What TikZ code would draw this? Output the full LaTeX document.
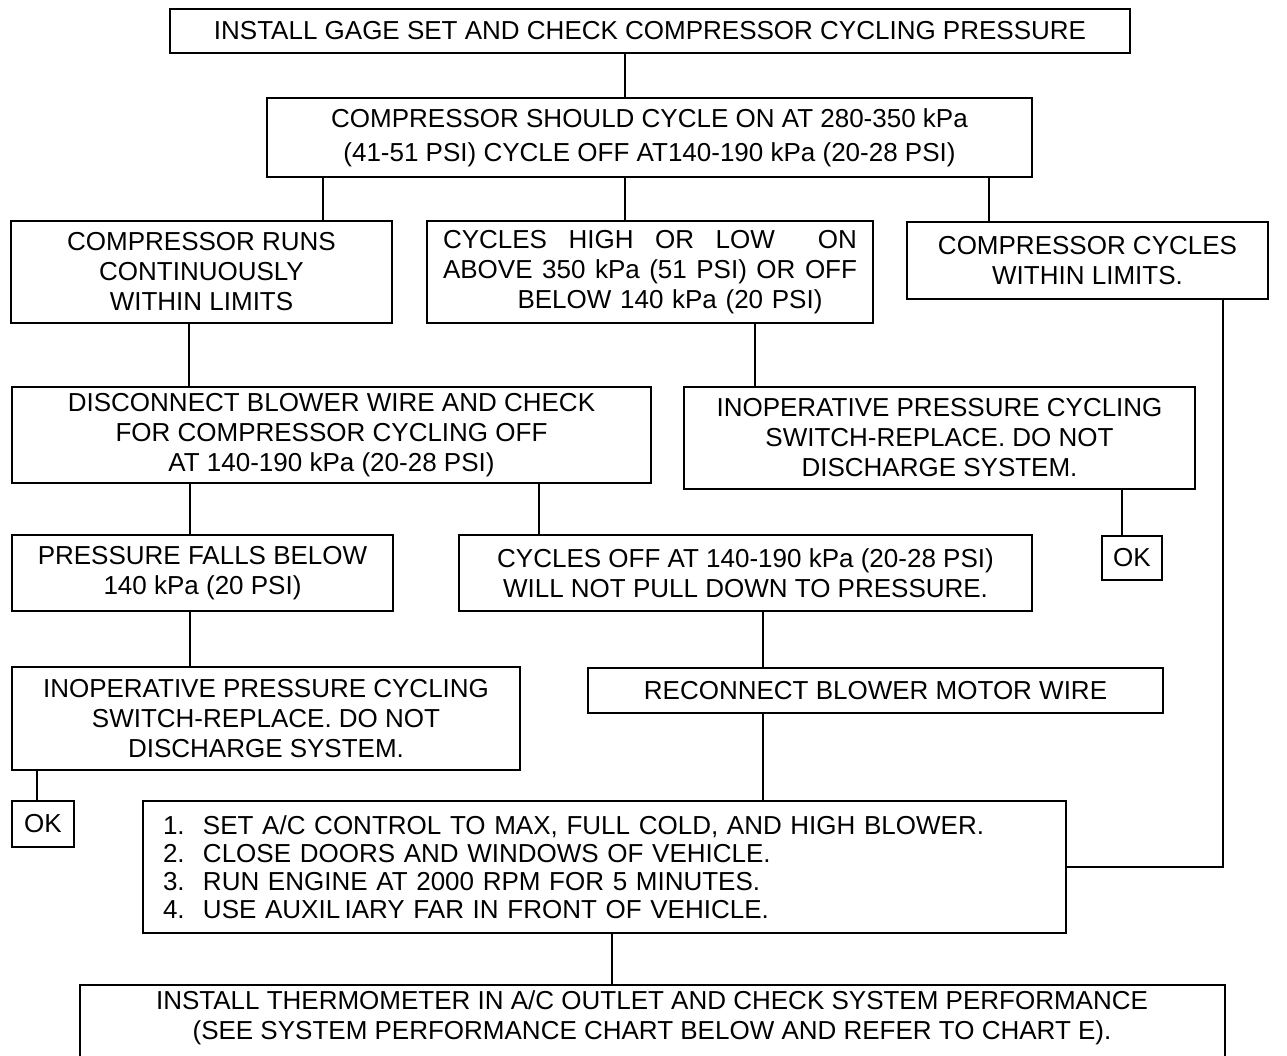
\documentclass[tikz,border=0pt]{standalone}
\usepackage{fontspec}
\setmainfont{Liberation Sans}

\begin{document}
\begin{tikzpicture}[
    x=1pt, y=-1pt,
    box/.style={rectangle, draw, line width=2pt, align=center, inner sep=0pt, font=\fontsize{26}{30}\selectfont},
    link/.style={line width=2.5pt}
]
\useasboundingbox (0,0) rectangle (1287,1055);

\node[box, minimum width=960pt, minimum height=44pt] (gage) at (650,31) {INSTALL GAGE SET AND CHECK COMPRESSOR CYCLING PRESSURE};
\node[box, minimum width=765pt, minimum height=79pt, font=\fontsize{26}{34}\selectfont] (limits) at (649.5,137.5) {COMPRESSOR SHOULD CYCLE ON AT 280-350 kPa\\(41-51 PSI) CYCLE OFF AT140-190 kPa (20-28 PSI)};

\node[box, minimum width=381pt, minimum height=102pt] (runs) at (201.5,272) {COMPRESSOR RUNS\\CONTINUOUSLY\\WITHIN LIMITS};
\node[box, minimum width=446pt, minimum height=102pt, text width=414pt] (highlow) at (650,272) {\makebox[414pt][s]{CYCLES\hfill HIGH\hfill OR\hfill LOW\hfill\hfill ON}\\\makebox[414pt][s]{ABOVE\hfill 350\hfill kPa\hfill (51\hfill PSI)\hfill OR\hfill OFF}\\\hspace*{40pt}BELOW 140 kPa (20 PSI)};
\node[box, minimum width=361pt, minimum height=77pt] (within) at (1087.5,260.5) {COMPRESSOR CYCLES\\WITHIN LIMITS.};

\node[box, minimum width=639pt, minimum height=96pt] (blower) at (331.5,435) {DISCONNECT BLOWER WIRE AND CHECK\\FOR COMPRESSOR CYCLING OFF\\AT 140-190 kPa (20-28 PSI)};
\node[box, minimum width=511pt, minimum height=102pt] (switch1) at (939.5,438) {INOPERATIVE PRESSURE CYCLING\\SWITCH-REPLACE. DO NOT\\DISCHARGE SYSTEM.};
\node[box, minimum width=60pt, minimum height=44pt] (ok1) at (1132,558) {OK};

\node[box, minimum width=381pt, minimum height=76pt] (falls) at (202.5,573) {PRESSURE FALLS BELOW\\140 kPa (20 PSI)};
\node[box, minimum width=573pt, minimum height=76pt] (cyclesoff) at (745.5,573) {CYCLES OFF AT 140-190 kPa (20-28 PSI)\\WILL NOT PULL DOWN TO PRESSURE.};

\node[box, minimum width=508pt, minimum height=103pt] (switch2) at (266,718.5) {INOPERATIVE PRESSURE CYCLING\\SWITCH-REPLACE. DO NOT\\DISCHARGE SYSTEM.};
\node[box, minimum width=575pt, minimum height=45pt] (reconnect) at (875.5,690.5) {RECONNECT BLOWER MOTOR WIRE};
\node[box, minimum width=62pt, minimum height=46pt] (ok2) at (43,824) {OK};

\node[box, text width=883pt, align=left, inner xsep=20pt, minimum height=132pt, font=\fontsize{26}{28}\selectfont] (steps) at (604.5,867) {\makebox[40pt][l]{1.}SET A/C CONTROL TO MAX, FULL COLD, AND HIGH BLOWER.\\\makebox[40pt][l]{2.}CLOSE DOORS AND WINDOWS OF VEHICLE.\\\makebox[40pt][l]{3.}RUN ENGINE AT 2000 RPM FOR 5 MINUTES.\\\makebox[40pt][l]{4.}USE AUXIL\,IARY FAR IN FRONT OF VEHICLE.};

\node[box, minimum width=1145pt, minimum height=90pt] (thermo) at (652,1030) {INSTALL THERMOMETER IN A/C OUTLET AND CHECK SYSTEM PERFORMANCE\\(SEE SYSTEM PERFORMANCE CHART BELOW AND REFER TO CHART E).\\\mbox{}};

\draw[link] (gage.south -| 625,0) -- (limits.north -| 625,0);
\draw[link] (limits.south -| 323,0) -- (runs.north -| 323,0);
\draw[link] (limits.south -| 625,0) -- (highlow.north -| 625,0);
\draw[link] (limits.south -| 989,0) -- (within.north -| 989,0);
\draw[link] (runs.south -| 189,0) -- (blower.north -| 189,0);
\draw[link] (highlow.south -| 755,0) -- (switch1.north -| 755,0);
\draw[link] (switch1.south -| 1122,0) -- (ok1.north -| 1122,0);
\draw[link] (blower.south -| 190,0) -- (falls.north -| 190,0);
\draw[link] (blower.south -| 539,0) -- (cyclesoff.north -| 539,0);
\draw[link] (falls.south -| 190,0) -- (switch2.north -| 190,0);
\draw[link] (cyclesoff.south -| 763,0) -- (reconnect.north -| 763,0);
\draw[link] (switch2.south -| 37,0) -- (ok2.north -| 37,0);
\draw[link] (reconnect.south -| 763,0) -- (steps.north -| 763,0);
\draw[link] (within.south -| 1223,0) |- (steps.east);
\draw[link] (steps.south -| 612,0) -- (thermo.north -| 612,0);

\end{tikzpicture}
\end{document}
